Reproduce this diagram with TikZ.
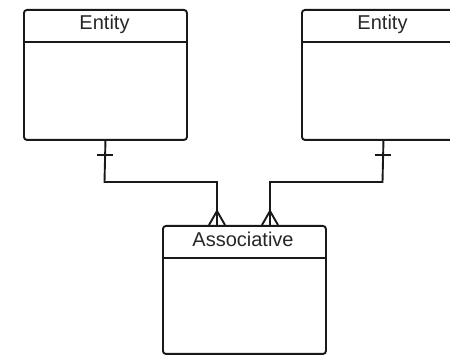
\documentclass[tikz,border=0pt]{standalone}
\usepackage{fontspec}
\setmainfont{Liberation Sans}
\begin{document}
\begin{tikzpicture}[x=1pt,y=-1pt,
  line width=1.9pt, draw=black!90,
  entbox/.style={draw=black!90, rectangle, rounded corners=3pt, minimum width=163pt, minimum height=130pt, anchor=north west, inner sep=0pt},
  enttitle/.style={text=black!85, font=\fontsize{20}{24}\selectfont, inner sep=0pt, anchor=base},
  conn/.style={draw=black!90, line width=1.9pt}
]
\useasboundingbox (0,0) rectangle (450,355);
\clip (0,0) rectangle (450,355);
% entities
\node[entbox] (e1) at (23,9) {};
\node[entbox] (e2) at (301,9) {};
\node[entbox, minimum height=128pt] (a) at (162,225) {};
% header dividers
\draw (e1.west |- 0,42) -- (e1.east |- 0,42);
\draw (e2.west |- 0,42) -- (e2.east |- 0,42);
\draw (a.west |- 0,258) -- (a.east |- 0,258);
% titles
\node[enttitle] (t1) at (104.5,30) {Entity};
\node[enttitle] (t2) at (382.5,30) {Entity};
\node[enttitle] (t3) at (243,246.5) {Associative};
% connector points
\coordinate (a1) at (217,225);
\coordinate (a2) at (270,225);
\coordinate (j1) at (104.5,182);
\coordinate (j2) at (382.5,182);
% connectors
\draw[conn] (e1.south) -- (j1) -| (a1);
\draw[conn] (e2.south) -- (j2) -| (a2);
% one marks
\draw[conn] (96.5,155) -- (112.5,155);
\draw[conn] (374.5,155) -- (390.5,155);
% crow's feet
\draw[conn] (209,225) -- (217,211) -- (225,225);
\draw[conn] (262,225) -- (270,211) -- (278,225);
\end{tikzpicture}
\end{document}
